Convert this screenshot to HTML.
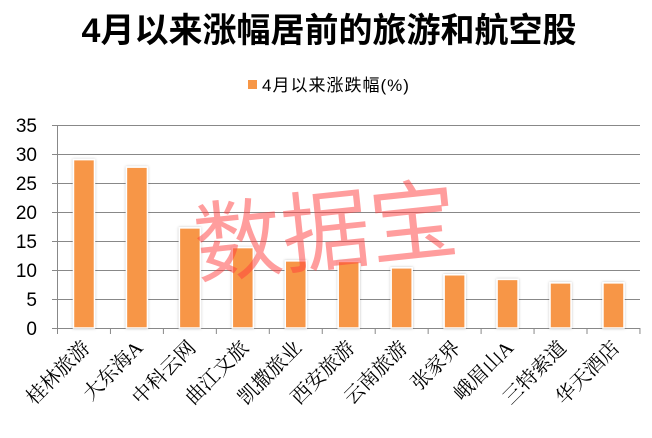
<!DOCTYPE html>
<html><head><meta charset="utf-8"><style>
html,body{margin:0;padding:0;background:#fff;}
svg{display:block;}
</style></head><body>
<svg width="652" height="438" viewBox="0 0 652 438" xmlns="http://www.w3.org/2000/svg">
<defs>
<filter id="sh" x="-30%" y="-5%" width="160%" height="110%"><feDropShadow dx="0" dy="0" stdDeviation="1.2" flood-color="#000" flood-opacity="0.25"/></filter>
</defs>
<text x="329" y="42" text-anchor="middle" font-family="'Liberation Sans','Noto Sans CJK SC',sans-serif" font-size="34" font-weight="bold" fill="#000">4月以来涨幅居前的旅游和航空股</text>
<rect x="248" y="80" width="9" height="9" fill="#f79646"/>
<text x="262" y="91" font-family="'Liberation Sans','Noto Sans CJK SC',sans-serif" font-size="17" letter-spacing="1" fill="#000">4月以来涨跌幅(%)</text>
<g stroke="#888" stroke-width="1">
<line x1="52" y1="125.5" x2="640" y2="125.5"/>
<line x1="52" y1="154.5" x2="640" y2="154.5"/>
<line x1="52" y1="183.5" x2="640" y2="183.5"/>
<line x1="52" y1="212.5" x2="640" y2="212.5"/>
<line x1="52" y1="241.5" x2="640" y2="241.5"/>
<line x1="52" y1="270.5" x2="640" y2="270.5"/>
<line x1="52" y1="299.5" x2="640" y2="299.5"/>
<line x1="52" y1="328.5" x2="640" y2="328.5"/>
<line x1="57.5" y1="125" x2="57.5" y2="333"/>
</g>
<g stroke="#888" stroke-width="1" id="ticks"></g>
<g font-family="'Liberation Sans',sans-serif" font-size="19" fill="#000" text-anchor="end">
<text x="37" y="132">35</text><text x="37" y="161">30</text><text x="37" y="190">25</text><text x="37" y="219">20</text><text x="37" y="248">15</text><text x="37" y="277">10</text><text x="37" y="306">5</text><text x="37" y="335">0</text>
</g>
<g id="bars" fill="#f79646" stroke="#fff" stroke-width="1.5" filter="url(#sh)"></g>
<g id="labels" font-family="'Liberation Serif','Noto Serif CJK SC',serif" font-size="20" fill="#000" text-anchor="end"></g>
<text x="325" y="263" text-anchor="middle" transform="rotate(-6 325 225)" font-family="'Liberation Sans','Noto Sans CJK SC',sans-serif" font-size="88" fill="#ff3b3b" fill-opacity="0.5">数据宝</text>
</svg>
<script>
var vals=[29.1,27.8,17.3,13.9,11.6,11.5,10.4,9.2,8.4,7.8,7.8];
var names=["桂林旅游","大东海A","中科云网","曲江文旅","凯撒旅业","西安旅游","云南旅游","张家界","峨眉山A","三特索道","华天酒店"];
var ns="http://www.w3.org/2000/svg",step=52.95,y0=328,k=5.786;
var b=document.getElementById("bars"),l=document.getElementById("labels"),t=document.getElementById("ticks");
for(var i=0;i<=11;i++){var x=57.5+step*i;var ln=document.createElementNS(ns,"line");ln.setAttribute("x1",x);ln.setAttribute("x2",x);ln.setAttribute("y1",328);ln.setAttribute("y2",334);t.appendChild(ln);}
vals.forEach(function(v,i){var c=57.5+step*(i+0.5);var h=v*k;var r=document.createElementNS(ns,"rect");r.setAttribute("x",c-10.5);r.setAttribute("y",y0-h);r.setAttribute("width",21);r.setAttribute("height",h);b.appendChild(r);
var tx=document.createElementNS(ns,"text");var ax=c+7,ay=349;tx.setAttribute("x",ax);tx.setAttribute("y",ay);tx.setAttribute("transform","rotate(-45 "+ax+" "+ay+")");tx.textContent=names[i];l.appendChild(tx);});
</script>
</body></html>
